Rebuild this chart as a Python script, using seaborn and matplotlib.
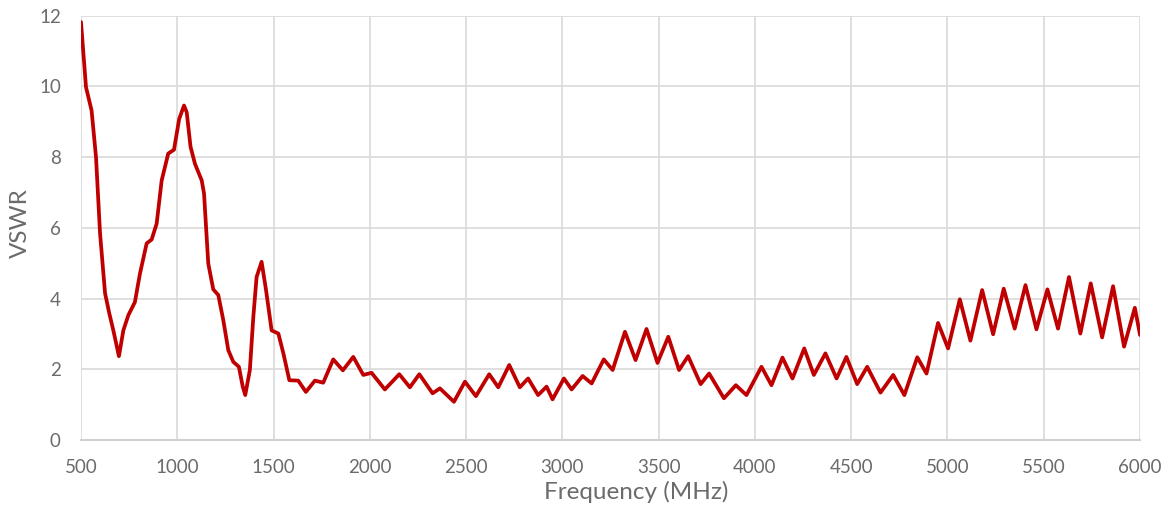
import matplotlib
matplotlib.use("Agg")
import matplotlib.pyplot as plt
import seaborn as sns
import pandas as pd

freq_mhz = [500, 526, 555, 578, 599, 625, 647, 668, 697, 720, 746, 780, 806, 841, 867, 893, 919,
            953, 983, 1010, 1035, 1049, 1069, 1092, 1127, 1139, 1161, 1187, 1213, 1239, 1265, 1291,
            1320, 1340, 1353, 1377, 1395, 1412, 1438, 1461, 1490, 1525, 1551, 1582, 1628, 1668,
            1715, 1758, 1810, 1860, 1914, 1966, 2009, 2078, 2153, 2208, 2257, 2326, 2364, 2437,
            2494, 2551, 2620, 2667, 2724, 2779, 2822, 2874, 2918, 2949, 3008, 3048, 3105, 3152,
            3215, 3261, 3325, 3380, 3437, 3494, 3550, 3606, 3653, 3718, 3762, 3839, 3901, 3956,
            4034, 4086, 4143, 4195, 4256, 4306, 4366, 4424, 4475, 4531, 4583, 4652, 4718, 4776,
            4843, 4891, 4951, 5003, 5064, 5119, 5180, 5237, 5292, 5349, 5405, 5462, 5519, 5574,
            5631, 5690, 5744, 5803, 5860, 5917, 5973, 6000]
vswr = [11.82, 9.98, 9.32, 8.0, 5.84, 4.15, 3.58, 3.1, 2.37, 3.1, 3.53, 3.9, 4.7, 5.56, 5.67, 6.12,
        7.34, 8.1, 8.21, 9.08, 9.46, 9.27, 8.29, 7.81, 7.34, 6.97, 4.99, 4.26, 4.1, 3.39, 2.54, 2.21,
        2.07, 1.51, 1.27, 1.98, 3.48, 4.61, 5.04, 4.24, 3.1, 3.01, 2.45, 1.69, 1.68, 1.36,
        1.68, 1.62, 2.28, 1.97, 2.35, 1.84, 1.9, 1.43, 1.86, 1.49, 1.86, 1.32, 1.46, 1.08,
        1.65, 1.24, 1.86, 1.49, 2.12, 1.49, 1.74, 1.27, 1.51, 1.15, 1.74, 1.43, 1.81, 1.6,
        2.28, 1.98, 3.06, 2.26, 3.14, 2.18, 2.92, 1.98, 2.37, 1.58, 1.88, 1.18, 1.55, 1.27,
        2.07, 1.55, 2.33, 1.74, 2.59, 1.84, 2.45, 1.74, 2.35, 1.58, 2.07, 1.34, 1.84, 1.27,
        2.34, 1.88, 3.31, 2.59, 3.98, 2.81, 4.24, 2.99, 4.28, 3.15, 4.38, 3.13, 4.26, 3.15,
        4.61, 3.01, 4.43, 2.9, 4.35, 2.64, 3.74, 2.97]
x_ticks = [500, 1000, 1500, 2000, 2500, 3000, 3500, 4000, 4500, 5000, 5500, 6000]
y_ticks = [0, 2, 4, 6, 8, 10, 12]

df = pd.DataFrame({"Frequency (MHz)": freq_mhz, "VSWR": vswr})

sns.set_style("white")
plt.rcParams['font.family'] = ['Lato', 'DejaVu Sans']

fig = plt.figure(figsize=(11.67, 5.13), dpi=100)
ax = fig.add_axes([0.0694, 0.1423, 0.9075, 0.8271])

sns.lineplot(data=df, x="Frequency (MHz)", y="VSWR", ax=ax, color="#C00000",
             linewidth=2.7, sort=False, solid_joinstyle="round", solid_capstyle="round",
             zorder=3)

ax.set_xlim(500, 6000)
ax.set_ylim(0, 12)
ax.set_xticks(x_ticks)
ax.set_yticks(y_ticks)
ax.grid(True, color="#d9d9d9", linewidth=1.2)
ax.set_axisbelow(True)
for s in ["top", "right", "left"]:
    ax.spines[s].set_visible(False)
ax.spines["bottom"].set_color("#d0d0d0")
ax.spines["bottom"].set_linewidth(1.5)
ax.tick_params(axis="both", length=0, labelsize=13.5, colors="#6b6b6b")
ax.tick_params(axis="x", pad=13.5)
ax.tick_params(axis="y", pad=14.5)
ax.set_xlabel("Frequency (MHz)", fontsize=17.5, color="#6b6b6b", labelpad=4)
ax.set_ylabel("VSWR", fontsize=17.5, color="#6b6b6b", labelpad=6)
ax.xaxis.label.set_x(0.524)
ax.yaxis.label.set_y(0.511)

fig.savefig("out.png", dpi=100)
